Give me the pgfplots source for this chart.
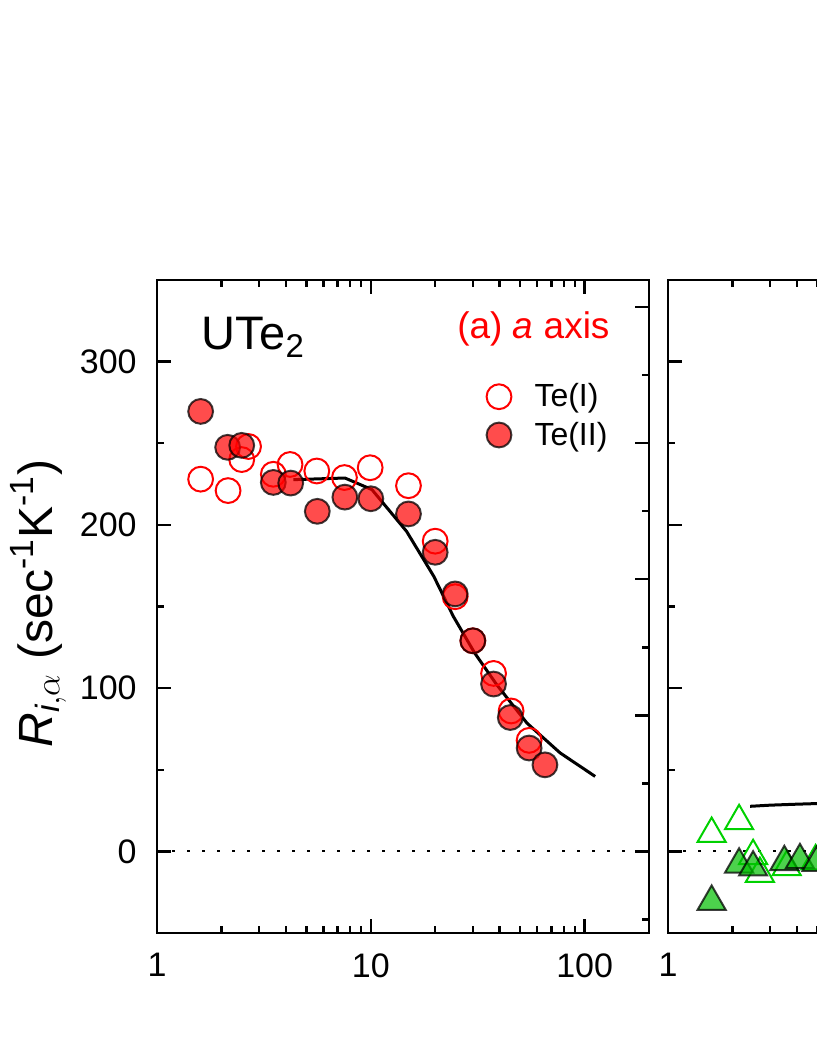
\documentclass[border=0pt]{standalone}
\usepackage{fontspec}
\setmainfont{Liberation Sans}
\usepackage{amsmath}
\usepackage{pgfplots}
\pgfplotsset{compat=1.18}

\pgfplotstableread{
x y
1.60 228
2.15 221
2.49 240
2.68 248
3.50 231
4.19 237
5.59 233
7.53 229
9.93 235
15.0 224
20.0 190
24.8 156
30.0 129
37.5 109
45.3 86
55.0 68
}\teIa

\pgfplotstableread{
x y
1.60 269.5
2.14 247.5
2.49 248.7
3.50 226
4.22 225.6
5.62 208.3
7.56 217
10.0 216
15.0 206.7
20.0 183.2
24.8 157.7
30.0 129
37.5 102.5
44.9 82
55.0 63.3
65.2 53
}\teIIa

\pgfplotstableread{
x y
4.34 227.7
7.57 228.7
10.12 221.6
14.7 196
19.7 168.5
24.3 144
30.6 121.5
38.8 102.1
53.7 78.6
76.8 60.3
112 45.9
}\fita

\pgfplotstableread{
x y
1.60 10.8
2.15 18.6
2.50 -2.8
2.69 -13.7
3.59 -9.6
4.90 -6
}\teIb

\pgfplotstableread{
x y
1.60 -30.8
2.15 -8
2.50 -9.8
3.50 -6.5
4.14 -5.3
4.95 -7
}\teIIb

\pgfplotstableread{
x y
2.42 27.6
3 28.3
4 28.9
5 29.3
6 29.6
}\fitb

\definecolor{myred}{rgb}{1,0,0}
\definecolor{mygreen}{rgb}{0,0.82,0}
\definecolor{mygreenfill}{rgb}{0,0.75,0}

\pgfplotsset{
  legimg/.style={legend image code/.code={\path[draw=none,fill=none] (0pt,0pt) -- (24.5pt,0pt); \draw[##1] plot coordinates {(6.75pt,0pt)};}},
}

\begin{document}
\begin{tikzpicture}
\path[use as bounding box] (0pt,0pt) rectangle (408.5pt,529pt);
\clip (0pt,0pt) rectangle (408.5pt,529pt);

% panel (a)
\begin{axis}[xmode=log,
  scale only axis, width=246pt, height=326.5pt,
  anchor=south west, at={(78.5pt,62.5pt)},
  xmin=1, xmax=200, ymin=-50, ymax=350,
  axis line style={line width=1.4pt},
  every tick/.append style={black, line width=1.2pt},
  major tick length=7pt, minor tick length=3.5pt,
  tick align=inside,
  xtick={1,10,100}, xticklabels={1,10,100},
  minor xtick={2,3,4,5,6,7,8,9,20,30,40,50,60,70,80,90},
  xtick pos=both,
  ytick={0,100,200,300}, minor ytick={50,150,250},
  ytick pos=left, yticklabels={0,100,200,300},
  xticklabel style={font=\fontsize{17}{20}\selectfont, inner sep=0pt, yshift=-10pt},
  yticklabel style={font=\fontsize{17}{20}\selectfont, inner sep=0pt, xshift=-10pt},
  legend style={at={(rel axis cs:0.6677,0.8473)}, anchor=north west, draw=none, fill=none,
    inner sep=0pt, outer sep=0pt, row sep=2.15pt, font=\fontsize{16}{19}\selectfont,
    nodes={inner sep=0pt, text height=13.5pt, text depth=3.5pt}},
  legend cell align=left]
\addplot[black, line width=0.9pt, dash pattern=on 1.5pt off 6pt, forget plot] coordinates {(1,0) (200,0)};
\addplot[only marks, mark=o, mark size=6.2pt, mark options={draw=myred, line width=1pt}, legimg]
    table {\teIa};
\addlegendentry{Te(I)}
\addplot[only marks, mark=*, mark size=6.2pt, mark options={draw=black, draw opacity=0.75, fill=myred, fill opacity=0.7, line width=1pt}, legimg]
    table {\teIIa};
\addlegendentry{Te(II)}
\addplot[black, line width=1.5pt, forget plot] table {\fita};
\node[anchor=base west, font=\fontsize{23.5}{28}\selectfont] at (rel axis cs:0.077,0.893) {UTe\textsubscript{2}};
\node[anchor=base east, text=myred, font=\fontsize{18.5}{22}\selectfont] at (rel axis cs:0.934,0.911) {(a) \textit{a} axis};
\end{axis}

% right-hand axis of panel (a)
\begin{axis}[scale only axis, width=246pt, height=326.5pt, anchor=south west, at={(78.5pt,62.5pt)},
  xmin=0, xmax=1, ymin=-50, ymax=350,
  axis x line=none, axis y line*=right,
  axis line style={line width=1.4pt, -},
  every tick/.append style={black, line width=1.2pt},
  major tick length=7pt, minor tick length=3.5pt, tick align=inside,
  ytick={0,83.333,166.667,250,333.333},
  minor ytick={-41.667,41.667,125,208.333,291.667},
  yticklabels={}]
\addplot[draw=none] coordinates {(0,0) (1,1)};
\end{axis}

% panel (b)
\begin{axis}[xmode=log,
  scale only axis, width=246pt, height=326.5pt,
  anchor=south west, at={(334pt,62.5pt)},
  xmin=1, xmax=200, ymin=-50, ymax=350,
  axis line style={line width=1.4pt},
  every tick/.append style={black, line width=1.2pt},
  major tick length=7pt, minor tick length=3.5pt,
  tick align=inside,
  xtick={1,10,100}, xticklabels={1},
  minor xtick={2,3,4,5,6,7,8,9,20,30,40,50,60,70,80,90},
  xtick pos=both,
  ytick={0,100,200,300}, minor ytick={50,150,250},
  ytick pos=both, yticklabels={},
  xticklabel style={font=\fontsize{17}{20}\selectfont, inner sep=0pt, yshift=-10pt}]
\addplot[black, line width=0.9pt, dash pattern=on 1.5pt off 6pt] coordinates {(1,0) (200,0)};
\addplot[only marks, mark=triangle, mark size=8.1pt, mark options={draw=mygreen, line width=1pt}] table {\teIb};
\addplot[only marks, mark=triangle*, mark size=8.1pt, mark options={draw=black, draw opacity=0.75, fill=mygreenfill, fill opacity=0.7, line width=1pt}] table {\teIIb};
\addplot[black, line width=1.5pt] table {\fitb};
\end{axis}

\node[rotate=90, anchor=base, font=\fontsize{24}{28}\selectfont] at (26pt,227.25pt)
  {\textit{R}$_{\textit{i},\alpha}$ (sec\textsuperscript{-1}K\textsuperscript{-1})};
\end{tikzpicture}
\end{document}
